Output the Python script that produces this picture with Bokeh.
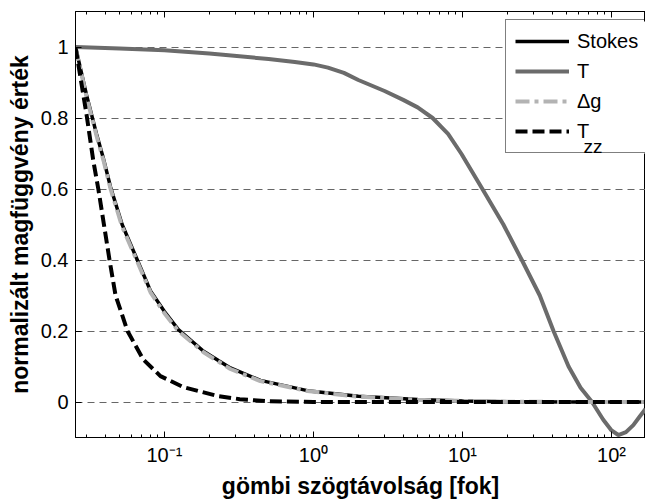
from bokeh.plotting import figure
from bokeh.models import (Range1d, LogAxis, FixedTicker, CustomJSTickFormatter,
                          Legend, LegendItem, Label, BoxAnnotation)
from bokeh.embed import file_html
from bokeh.resources import INLINE

# ---- data ----
psi_T = [0.0253, 0.05, 0.1, 0.2, 0.5, 0.75, 1, 1.25, 1.6, 2, 3, 4, 5, 6.3, 8,
         9.8, 13.6, 18.8, 25, 33, 40.8, 51.5, 62, 74, 88, 100, 111, 125, 140,
         155, 169]
val_T = [1.0, 0.996, 0.991, 0.982, 0.966, 0.958, 0.951, 0.942, 0.927, 0.907,
         0.876, 0.851, 0.83, 0.80, 0.755, 0.70, 0.60, 0.50, 0.40, 0.30, 0.20,
         0.10, 0.04, 0.0, -0.05, -0.08, -0.093, -0.085, -0.065, -0.04, -0.02]

psi_S = [0.0253, 0.03, 0.035, 0.039, 0.0435, 0.052, 0.065, 0.0806, 0.1, 0.124,
         0.183, 0.277, 0.44, 0.91, 2, 5, 10, 20, 50, 100, 169]
val_stokes = [1.0, 0.865, 0.755, 0.685, 0.605, 0.5, 0.405, 0.313, 0.255, 0.204,
              0.143, 0.096, 0.061, 0.032, 0.016, 0.007, 0.003, 0.001, 0.0, 0.0, 0.0]
val_dg = [1.0, 0.86, 0.75, 0.68, 0.60, 0.494, 0.40, 0.309, 0.25, 0.20,
          0.14, 0.093, 0.059, 0.031, 0.015, 0.006, 0.003, 0.001, 0.0, 0.0, 0.0]

psi_Tzz = [0.0253, 0.03, 0.0333, 0.036, 0.0428, 0.047, 0.0565, 0.072, 0.094,
           0.134, 0.227, 0.32, 0.5, 1, 10, 169]
val_Tzz = [1.0, 0.81, 0.68, 0.60, 0.40, 0.30, 0.20, 0.12, 0.073, 0.042, 0.017,
           0.008, 0.002, 0.0, 0.0, 0.0]

series_names = ["Stokes", "T", "\u0394g", "T"]
tzz_subscript = "zz"

x_tick_values = [0.1, 1, 10, 100]
x_tick_labels = ["10\u207b\u00b9", "10\u2070", "10\u00b9", "10\u00b2"]
y_tick_values = [0, 0.2, 0.4, 0.6, 0.8, 1]
y_tick_labels = ["0", "0.2", "0.4", "0.6", "0.8", "1"]
x_label = "gömbi szögtávolság [fok]"
y_label = "normalizált magfüggvény érték"

FONT = "Liberation Sans"

p = figure(width=645, height=501, x_axis_type="log",
           x_range=Range1d(0.0253, 169), y_range=Range1d(-0.1, 1.1),
           output_backend="svg", toolbar_location=None,
           min_border_left=75, min_border_right=0, min_border_top=11,
           min_border_bottom=63)
p.background_fill_color = "white"
p.border_fill_color = "white"
p.outline_line_color = "black"
p.outline_line_width = 1

minor = [m * 10.0 ** e for e in range(-2, 3) for m in range(2, 10)]

fmt_code = """
for (let i = 0; i < vals.length; i++) {
  const v = vals[i];
  if (Math.abs(tick - v) <= 1e-6 * (Math.abs(v) + 1e-3)) return labels[i];
}
return '';
"""

xa = p.xaxis[0]
xa.ticker = FixedTicker(ticks=x_tick_values, minor_ticks=minor)
xa.formatter = CustomJSTickFormatter(args=dict(vals=x_tick_values, labels=x_tick_labels), code=fmt_code)
ya = p.yaxis[0]
ya.ticker = FixedTicker(ticks=y_tick_values)
ya.formatter = CustomJSTickFormatter(args=dict(vals=y_tick_values, labels=y_tick_labels), code=fmt_code)

for ax in (xa, ya):
    ax.axis_line_color = "black"
    ax.major_tick_line_color = "black"
    ax.minor_tick_line_color = "black"
    ax.major_tick_in = 6
    ax.major_tick_out = 0
    ax.minor_tick_in = 3
    ax.minor_tick_out = 0
    ax.major_label_text_font = FONT
    ax.major_label_text_font_size = "20px"
    ax.major_label_text_color = "black"
    ax.axis_label_text_font = FONT
    ax.axis_label_text_font_size = "23px"
    ax.axis_label_text_font_style = "bold"
    ax.axis_label_text_color = "black"

xa.axis_label = x_label
ya.axis_label = y_label
xa.major_label_standoff = 6
xa.axis_label_standoff = 4
ya.major_label_standoff = 7
ya.axis_label_standoff = 5

top = LogAxis(ticker=FixedTicker(ticks=x_tick_values, minor_ticks=minor),
              formatter=CustomJSTickFormatter(code="return '';"),
              major_tick_in=6, major_tick_out=0, minor_tick_in=3, minor_tick_out=0,
              major_label_text_font_size="0px", major_label_standoff=0,
              axis_line_color="black", major_tick_line_color="black",
              minor_tick_line_color="black")
p.add_layout(top, "above")

p.xgrid.visible = False
p.ygrid.ticker = FixedTicker(ticks=y_tick_values)
p.ygrid.grid_line_color = "#666666"
p.ygrid.grid_line_dash = "7 5"
p.ygrid.grid_line_width = 1

r_st = p.line(psi_S, val_stokes, line_color="black", line_width=3.5)
r_t = p.line(psi_T, val_T, line_color="#6b6b6b", line_width=4)
r_dg = p.line(psi_S, val_dg, line_color="#b3b3b3", line_width=4, line_dash="14 5 4 5")
r_tzz = p.line(psi_Tzz, val_Tzz, line_color="black", line_width=4, line_dash="12 5")

# white backing for the legend (legend itself is transparent so the subscript shows)
p.add_layout(BoxAnnotation(left=430, right=580, bottom=284, top=416,
                           left_units="screen", right_units="screen",
                           bottom_units="screen", top_units="screen",
                           fill_color="white", fill_alpha=1, line_alpha=0))

legend = Legend(items=[LegendItem(label=series_names[0], renderers=[r_st]),
                       LegendItem(label=series_names[1], renderers=[r_t]),
                       LegendItem(label=series_names[2], renderers=[r_dg]),
                       LegendItem(label=series_names[3], renderers=[r_tzz])],
                location=(430, 284), glyph_width=54, glyph_height=20,
                label_standoff=8, padding=9, spacing=6, label_height=24,
                label_text_font=FONT, label_text_font_size="20px",
                label_text_color="black",
                border_line_color="black", border_line_width=1,
                background_fill_alpha=0, margin=0)
p.add_layout(legend)

p.add_layout(Label(x=508, y=291, x_units="screen", y_units="screen",
                   text=tzz_subscript, text_font=FONT, text_font_size="19px",
                   text_color="black", text_baseline="alphabetic"))

open("out.html", "w").write(file_html(p, INLINE))
